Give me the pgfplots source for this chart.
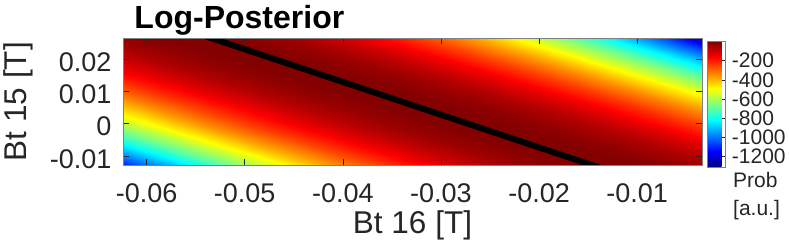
\documentclass[border=0pt]{standalone}
\usepackage{fontspec}
\setmainfont{Liberation Sans}
\usepackage{pgfplots}
\pgfplotsset{compat=1.18}
\usepackage{pgfplotstable}
\definecolor{axgray}{RGB}{38,38,38}
\pgfplotsset{every axis title shift/.style={}, colorbar shift/.style={}}
\pgfplotstableread{
x y f
-0.0624 -0.0128 -1114
-0.060 -0.0128 -1008
-0.055 -0.0128 -804
-0.050 -0.0128 -623
-0.045 -0.0128 -465
-0.040 -0.0128 -330
-0.035 -0.0128 -219
-0.030 -0.0128 -130
-0.025 -0.0128 -64
-0.020 -0.0128 -21
-0.015 -0.0128 -1
-0.010 -0.0128 -5
-0.005 -0.0128 -31
-0.0034 -0.0128 -44
-0.0624 -0.010 -982
-0.060 -0.010 -882
-0.055 -0.010 -692
-0.050 -0.010 -525
-0.045 -0.010 -382
-0.040 -0.010 -261
-0.035 -0.010 -163
-0.030 -0.010 -88
-0.025 -0.010 -36
-0.020 -0.010 -7
-0.015 -0.010 -1
-0.010 -0.010 -18
-0.005 -0.010 -58
-0.0034 -0.010 -75
-0.0624 -0.005 -768
-0.060 -0.005 -680
-0.055 -0.005 -515
-0.050 -0.005 -372
-0.045 -0.005 -253
-0.040 -0.005 -157
-0.035 -0.005 -83
-0.030 -0.005 -33
-0.025 -0.005 -5
-0.020 -0.005 -1
-0.015 -0.005 -20
-0.010 -0.005 -61
-0.005 -0.005 -126
-0.0034 -0.005 -152
-0.0624 0.000 -580
-0.060 0.000 -504
-0.055 0.000 -363
-0.050 0.000 -245
-0.045 0.000 -151
-0.040 0.000 -79
-0.035 0.000 -30
-0.030 0.000 -4
-0.025 0.000 -2
-0.020 0.000 -22
-0.015 0.000 -65
-0.010 0.000 -131
-0.005 0.000 -221
-0.0034 0.000 -254
-0.0624 0.005 -418
-0.060 0.005 -354
-0.055 0.005 -238
-0.050 0.005 -145
-0.045 0.005 -75
-0.040 0.005 -28
-0.035 0.005 -4
-0.030 0.005 -2
-0.025 0.005 -24
-0.020 0.005 -69
-0.015 0.005 -137
-0.010 0.005 -228
-0.005 0.005 -342
-0.0034 0.005 -383
-0.0624 0.010 -283
-0.060 0.010 -231
-0.055 0.010 -139
-0.050 0.010 -71
-0.045 0.010 -25
-0.040 0.010 -3
-0.035 0.010 -3
-0.030 0.010 -27
-0.025 0.010 -73
-0.020 0.010 -143
-0.015 0.010 -235
-0.010 0.010 -350
-0.005 0.010 -489
-0.0034 0.010 -538
-0.0624 0.015 -174
-0.060 0.015 -134
-0.055 0.015 -67
-0.050 0.015 -23
-0.045 0.015 -2
-0.040 0.015 -4
-0.035 0.015 -29
-0.030 0.015 -77
-0.025 0.015 -148
-0.020 0.015 -242
-0.015 0.015 -359
-0.010 0.015 -499
-0.005 0.015 -662
-0.0034 0.015 -720
-0.0624 0.020 -91
-0.060 0.020 -63
-0.055 0.020 -21
-0.050 0.020 -1
-0.045 0.020 -5
-0.040 0.020 -32
-0.035 0.020 -81
-0.030 0.020 -154
-0.025 0.020 -250
-0.020 0.020 -368
-0.015 0.020 -510
-0.010 0.020 -675
-0.005 0.020 -862
-0.0034 0.020 -927
-0.0624 0.025 -35
-0.060 0.025 -19
-0.055 0.025 -1
-0.050 0.025 -6
-0.045 0.025 -34
-0.040 0.025 -86
-0.035 0.025 -160
-0.030 0.025 -257
-0.025 0.025 -378
-0.020 0.025 -521
-0.015 0.025 -687
-0.010 0.025 -876
-0.005 0.025 -1089
-0.0034 0.025 -1162
-0.0624 0.0264 -24
-0.060 0.0264 -11
-0.055 0.0264 0
-0.050 0.0264 -12
-0.045 0.0264 -47
-0.040 0.0264 -106
-0.035 0.0264 -187
-0.030 0.0264 -291
-0.025 0.0264 -418
-0.020 0.0264 -568
-0.015 0.0264 -742
-0.010 0.0264 -938
-0.005 0.0264 -1157
-0.0034 0.0264 -1232
}\posterior
\pgfplotstableread{
x y
-0.0569 0.030
-0.0115 -0.016
}\ridge

\begin{document}
\begin{tikzpicture}
\begin{axis}[
  at={(0pt,0pt)}, anchor=south west,
  scale only axis, width=579pt, height=126.7pt,
  xmin=-0.0624, xmax=-0.0034, ymin=-0.0128, ymax=0.0264,
  scaled ticks=false,
  axis on top,
  colormap={matjet}{rgb255(0cm)=(0,0,128) rgb255(1cm)=(0,0,255) rgb255(3cm)=(0,255,255) rgb255(5cm)=(255,255,0) rgb255(7cm)=(255,0,0) rgb255(8cm)=(128,0,0)},
  point meta min=-1315, point meta max=0,
  xtick={-0.06,-0.05,-0.04,-0.03,-0.02,-0.01},
  xticklabels={-0.06,-0.05,-0.04,-0.03,-0.02,-0.01},
  ytick={-0.01,0,0.01,0.02},
  yticklabels={-0.01,0,0.01,0.02},
  tick align=inside, major tick length=6pt,
  tick style={axgray, line width=0.6pt},
  axis line style={gray, line width=0.8pt},
  xticklabel style={font=\fontsize{27}{27}\selectfont, text=axgray, anchor=north, inner sep=0pt, yshift=-18.3pt},
  yticklabel style={font=\fontsize{27}{27}\selectfont, text=axgray, anchor=east, inner sep=0pt, xshift=-11.3pt, yshift=-3pt},
  xlabel={Bt 16 [T]}, ylabel={Bt 15 [T]},
  xlabel style={font=\fontsize{31.5}{31.5}\selectfont, text=axgray, at={(axis description cs:0.5,-0.5391)}, anchor=base, inner sep=0pt},
  ylabel style={font=\fontsize{31.5}{31.5}\selectfont, text=axgray, at={(axis description cs:-0.1663,0.5)}, anchor=base, inner sep=0pt},
  title={Log-Posterior},
  title style={font=\bfseries\fontsize{32}{32}\selectfont, text=black, at={(axis description cs:0.01952,1.0316)}, anchor=base west, inner sep=0pt},
  colorbar,
  colorbar style={
    at={(parent axis.north east)}, anchor=north west, xshift=5.3pt, yshift=-3.4pt,
    width=17.7pt, height=125.3pt,
    scaled ticks=false,
    ytick={-1200,-1000,-800,-600,-400,-200},
    yticklabels={-1200,-1000,-800,-600,-400,-200},
    yticklabel style={font=\fontsize{21}{21}\selectfont, text=axgray, anchor=west, inner sep=0pt, xshift=6.7pt, yshift=0pt},
    major tick length=3pt, tick align=inside,
    ytick pos=right,
    axis line style={gray, line width=0.8pt},
  },
]
\addplot[surf, shader=interp, mesh/cols=14, point meta=\thisrow{f}] table[x=x, y=y] {\posterior};
\addplot[black, line width=6pt] table[x=x, y=y] {\ridge};
\end{axis}
\node[anchor=base west, inner sep=0pt, font=\fontsize{21}{21}\selectfont, text=axgray] at (610pt,-23pt) {Prob};
\node[anchor=base west, inner sep=0pt, font=\fontsize{21}{21}\selectfont, text=axgray] at (610pt,-51pt) {[a.u.]};
\pgfresetboundingbox
\path[use as bounding box] (-123pt,-78pt) rectangle (666pt,165pt);
\end{tikzpicture}
\end{document}
